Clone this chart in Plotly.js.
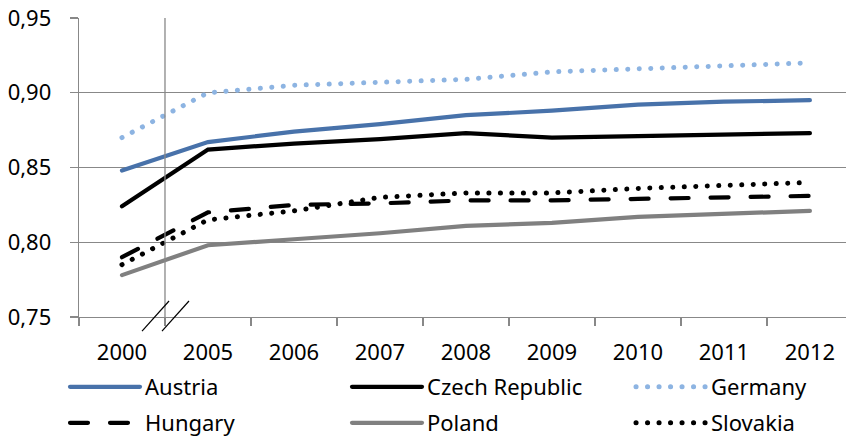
<!DOCTYPE html>
<html>
<head>
<meta charset="utf-8">
<script src="https://cdn.plot.ly/plotly-3.0.1.min.js"></script>
<style>
  body { margin: 0; background: #fff; }
  #chart { width: 846px; height: 436px; }
  path.js-line { stroke-linecap: round; }
</style>
</head>
<body>
<div id="chart"></div>
<script>
const years = ['2000', '2005', '2006', '2007', '2008', '2009', '2010', '2011', '2012'];
const austria  = [0.848, 0.867, 0.874, 0.879, 0.885, 0.888, 0.892, 0.894, 0.895];
const czech    = [0.824, 0.862, 0.866, 0.869, 0.873, 0.870, 0.871, 0.872, 0.873];
const germany  = [0.870, 0.900, 0.905, 0.907, 0.909, 0.914, 0.916, 0.918, 0.920];
const hungary  = [0.790, 0.820, 0.825, 0.826, 0.828, 0.828, 0.829, 0.830, 0.831];
const poland   = [0.778, 0.798, 0.802, 0.806, 0.811, 0.813, 0.817, 0.819, 0.821];
const slovakia = [0.785, 0.815, 0.821, 0.830, 0.833, 0.833, 0.836, 0.838, 0.840];
const yTicks = [0.75, 0.80, 0.85, 0.90, 0.95];

function tr(name, y, color, dash, width, legend) {
  return { type: 'scatter', mode: 'lines', x: years, y: y, name: name,
    line: { color: color, width: width, dash: dash }, legend: legend, hoverinfo: 'skip' };
}
const data = [
  tr('Austria', austria, '#4872AA', 'solid', 4.2, 'legend'),
  tr('Czech Republic', czech, '#000000', 'solid', 4.2, 'legend2'),
  tr('Germany', germany, '#8DB4E2', '0.1px,11.4px', 5, 'legend3'),
  tr('Hungary', hungary, '#000000', '18px,22px', 4.2, 'legend4'),
  tr('Poland', poland, '#808080', 'solid', 4.2, 'legend5'),
  tr('Slovakia', slovakia, '#000000', '0.1px,11.4px', 5, 'legend6')
];

const gridC = '#888888';
const font = { family: 'Noto Sans, sans-serif', size: 22, color: '#000' };
const legFont = { family: 'Noto Sans, sans-serif', size: 22, color: '#000' };
function leg(px, top) {
  return { orientation: 'h', xref: 'container', yref: 'container',
    x: px / 846, xanchor: 'left', y: 1 - top / 436, yanchor: 'top',
    itemwidth: 70, font: legFont, bgcolor: 'rgba(0,0,0,0)' };
}
const layout = {
  width: 846, height: 436,
  margin: { l: 79, r: 0, t: 18, b: 119 },
  separators: ',.',
  showlegend: true,
  font: font,
  paper_bgcolor: '#fff', plot_bgcolor: '#fff',
  xaxis: {
    type: 'category', range: [-0.5, 8.42], tickson: 'boundaries',
    showgrid: false, ticks: 'outside', ticklen: 8, tickcolor: gridC, tickwidth: 1.3,
    showline: true, linecolor: gridC, linewidth: 1.3,
    ticklabelstandoff: 15, tickfont: font, fixedrange: true
  },
  yaxis: {
    range: [0.75, 0.95], tickvals: yTicks, tickformat: '.2f',
    showgrid: true, gridcolor: gridC, gridwidth: 1.3,
    ticks: 'outside', ticklen: 8, tickcolor: gridC, tickwidth: 1.3,
    showline: true, linecolor: gridC, linewidth: 1.3, zeroline: false,
    ticklabelstandoff: 14, tickfont: font, fixedrange: true
  },
  legend: leg(65, 366),
  legend2: leg(347, 366),
  legend3: leg(631, 366),
  legend4: leg(65, 402),
  legend5: leg(347, 402),
  legend6: leg(631, 402),
  shapes: [
    { type: 'line', xref: 'x', yref: 'paper', x0: 0.5, x1: 0.5, y0: 0, y1: 1,
      line: { color: gridC, width: 1.3 } },
    { type: 'line', xref: 'x', yref: 'paper', x0: 0.233, x1: 0.547, y0: -0.047, y1: 0.0535,
      line: { color: '#000', width: 1.2 } },
    { type: 'line', xref: 'x', yref: 'paper', x0: 0.465, x1: 0.779, y0: -0.047, y1: 0.0535,
      line: { color: '#000', width: 1.2 } }
  ]
};
Plotly.newPlot('chart', data, layout, { displayModeBar: false, staticPlot: true });
</script>
</body>
</html>
